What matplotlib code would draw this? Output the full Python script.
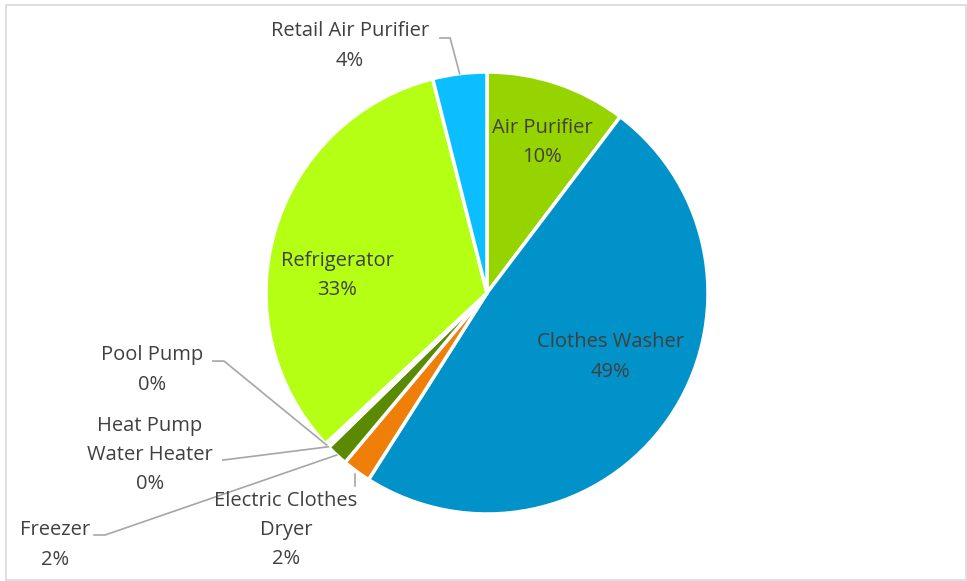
import matplotlib
matplotlib.use('Agg')
import matplotlib.pyplot as plt
import numpy as np
from matplotlib.patches import Rectangle

# appliance share of savings
categories = ['Air Purifier', 'Clothes Washer', 'Electric Clothes\nDryer', 'Freezer',
              'Heat Pump\nWater Heater', 'Pool Pump', 'Refrigerator', 'Retail Air Purifier']
shares = [10.3, 48.7, 2.1, 1.6, 0.1, 0.25, 33.0, 3.95]
colors = ['#96D400', '#0092C8', '#F07F09', '#5A8A00',
          '#C55A11', '#8B4A12', '#B5FF14', '#0ABEFF']

# label placement (pie radius = 1): inside labels have no leader line
label_pos = {
    'Air Purifier': (0.25, 0.68),
    'Clothes Washer': (0.557, -0.29),
    'Refrigerator': (-0.679, 0.08),
    'Retail Air Purifier': (-0.62, 1.118),
    'Pool Pump': (-1.516, -0.348),
    'Heat Pump\nWater Heater': (-1.525, -0.733),
    'Freezer': (-1.955, -1.14),
    'Electric Clothes\nDryer': (-0.91, -1.072),
}
# leader lines: start point and elbow
leaders = {
    'Retail Air Purifier': [(-0.213, 1.154), (-0.167, 1.154)],
    'Pool Pump': [(-1.24, -0.308), (-1.19, -0.308)],
    'Heat Pump\nWater Heater': [(-1.195, -0.756), (-1.195, -0.756)],
    'Freezer': [(-1.778, -1.095), (-1.728, -1.095)],
    'Electric Clothes\nDryer': [(-0.597, -0.873), (-0.597, -0.873)],
}

fig = plt.figure(figsize=(9.67, 5.81), dpi=100)
fig.patches.append(Rectangle((6 / 967, 1 - 580 / 581), 960 / 967, 575 / 581,
                             transform=fig.transFigure, fill=False,
                             edgecolor='#D9D9D9', linewidth=1.2))

R = 221
ax = fig.add_axes([(487 - R) / 967, (581 - 293 - R) / 581, 2 * R / 967, 2 * R / 581])
wedges, _ = ax.pie(shares, colors=colors, startangle=90, counterclock=False,
                   radius=1.0, wedgeprops=dict(edgecolor='white', linewidth=2.5))
ax.set_xlim(-1, 1)
ax.set_ylim(-1, 1)
ax.set_aspect('equal')
ax.axis('off')

for w, name, v in zip(wedges, categories, shares):
    x, y = label_pos[name]
    ax.text(x, y, f'{name}\n{round(v):.0f}%', ha='center', va='center',
            fontsize=14.5, color='#404040', family='Open Sans', linespacing=1.62,
            clip_on=False)
    if name in leaders:
        start, elbow = leaders[name]
        if start[0] == elbow[0] and 'Dryer' in name:
            # straight up to just below the rim
            tip = (elbow[0], -np.sqrt(1 - elbow[0] ** 2) - 0.015)
        else:
            mid = np.deg2rad((w.theta1 + w.theta2) / 2)
            tip = (np.cos(mid), np.sin(mid))
        xs, ys = zip(start, elbow, tip)
        ax.plot(xs, ys, color='#A6A6A6', linewidth=1.2, clip_on=False)

fig.savefig('out.png', dpi=100)
